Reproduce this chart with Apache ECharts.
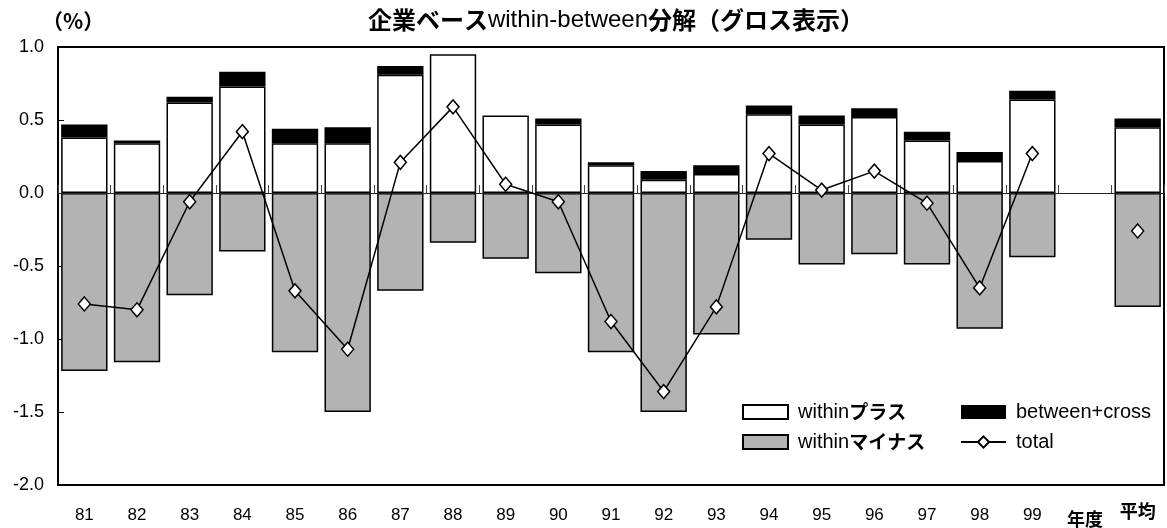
<!DOCTYPE html>
<html>
<head>
<meta charset="utf-8">
<script src="https://cdn.jsdelivr.net/npm/echarts@6/dist/echarts.min.js"></script>
<style>
  html, body { margin: 0; padding: 0; background: #fff; }
  #chart { width: 1167px; height: 528px; }
</style>
</head>
<body>
<div id="chart"></div>
<script>
// 年度別の within / between 分解（企業ベース、グロス表示）
const categories = ['81', '82', '83', '84', '85', '86', '87', '88', '89', '90',
  '91', '92', '93', '94', '95', '96', '97', '98', '99', '年度', '平均'];

const withinPlus = [0.38, 0.34, 0.62, 0.73, 0.34, 0.34, 0.81, 0.95, 0.53, 0.47,
  0.19, 0.09, 0.13, 0.54, 0.47, 0.52, 0.36, 0.22, 0.64, null, 0.45];

const betweenCross = [0.09, 0.02, 0.04, 0.10, 0.10, 0.11, 0.06, 0, 0, 0.04,
  0.02, 0.06, 0.06, 0.06, 0.06, 0.06, 0.06, 0.06, 0.06, null, 0.06];

const withinMinus = [-1.22, -1.16, -0.70, -0.40, -1.09, -1.50, -0.67, -0.34, -0.45, -0.55,
  -1.09, -1.50, -0.97, -0.32, -0.49, -0.42, -0.49, -0.93, -0.44, null, -0.78];

const total = [-0.76, -0.80, -0.06, 0.42, -0.67, -1.07, 0.21, 0.59, 0.06, -0.06,
  -0.88, -1.36, -0.78, 0.27, 0.02, 0.15, -0.07, -0.65, 0.27, null, -0.26];

const yTicks = { min: -2.0, max: 1.0, step: 0.5 };

const LATIN = '"Liberation Sans", Arial, sans-serif';
const CJK = '"Noto Sans CJK JP", sans-serif';

const legendRich = {
  r: { fontFamily: LATIN, fontSize: 20, fontWeight: 'normal', color: '#000', padding: [0, 0, 0, 5] },
  b: { fontFamily: CJK, fontSize: 19, fontWeight: 'bold', color: '#000' }
};
function legendLabel(name) {
  const m = name.match(/^(within)(.*)$/);
  if (m) return '{r|' + m[1] + '}{b|' + m[2] + '}';
  return '{r|' + name + '}';
}

const chart = echarts.init(document.getElementById('chart'), null, { renderer: 'canvas' });

chart.setOption({
  animation: false,
  backgroundColor: '#fff',
  title: {
    text: '{b|企業ベース}{r|within-between}{b|分解（グロス表示）}',
    left: 611,
    textAlign: 'center',
    top: 3,
    textStyle: {
      rich: {
        b: { fontFamily: CJK, fontSize: 24, fontWeight: 'bold', color: '#000' },
        r: { fontFamily: LATIN, fontSize: 24, fontWeight: 'normal', color: '#000' }
      }
    }
  },
  graphic: [
    {
      type: 'text', left: 42, top: 11,
      style: {
        text: '（%）',
        font: 'bold 21px "Noto Sans CJK JP", sans-serif',
        fill: '#000'
      }
    }
  ],
  grid: {
    left: 58, right: 3, top: 47, bottom: 40,
    show: true, borderColor: '#000', borderWidth: 2, backgroundColor: '#fff'
  },
  legend: [
    {
      data: [{ name: 'withinプラス', icon: 'rect' }, { name: 'withinマイナス', icon: 'rect' }],
      orient: 'vertical', left: 737, top: 397,
      itemWidth: 45, itemHeight: 14, itemGap: 10,
      formatter: legendLabel,
      textStyle: { rich: legendRich }
    },
    {
      data: [{ name: 'between+cross', icon: 'rect' }, 'total'],
      orient: 'vertical', left: 955, top: 397,
      itemWidth: 45, itemHeight: 14, itemGap: 10,
      formatter: legendLabel,
      textStyle: { rich: legendRich }
    }
  ],
  xAxis: [
    {
      // zero line with boundary ticks
      type: 'category', data: categories, position: 'bottom',
      axisLine: { onZero: true, lineStyle: { color: '#222', width: 1.2 } },
      axisTick: { show: true, inside: true, length: 8, interval: 0, lineStyle: { color: '#444', width: 1 } },
      axisLabel: { show: false },
      z: 5
    },
    {
      // category labels along the bottom edge
      type: 'category', data: categories, position: 'bottom',
      axisLine: { show: false, onZero: false },
      axisTick: { show: false },
      axisLabel: {
        interval: 0,
        margin: 17,
        formatter: function (v) {
          if (v === '年度') return '{n|' + v + '}';
          if (v === '平均') return '{a|' + v + '}';
          return '{d|' + v + '}';
        },
        rich: {
          d: { fontFamily: LATIN, fontSize: 17, color: '#000', padding: [5, 0, 0, 0] },
          n: { fontFamily: CJK, fontSize: 18, fontWeight: 'bold', color: '#000', padding: [8, 0, 0, 0] },
          a: { fontFamily: CJK, fontSize: 18, fontWeight: 'bold', color: '#000', padding: [0, 0, 0, 0] }
        }
      }
    }
  ],
  yAxis: {
    type: 'value',
    min: yTicks.min, max: yTicks.max, interval: yTicks.step,
    axisLine: { show: true, lineStyle: { color: '#000', width: 2 } },
    axisTick: { show: true, inside: true, length: 6, lineStyle: { color: '#000', width: 1 } },
    splitLine: { show: false },
    axisLabel: {
      margin: 14,
      fontFamily: LATIN, fontSize: 18, color: '#000',
      formatter: function (v) { return v.toFixed(1); }
    }
  },
  series: [
    {
      name: 'withinプラス', type: 'bar', stack: 'g', data: withinPlus,
      barCategoryGap: '12%',
      itemStyle: { color: '#fff', borderColor: '#000', borderWidth: 1.5 }
    },
    {
      name: 'between+cross', type: 'bar', stack: 'g', data: betweenCross,
      itemStyle: { color: '#000', borderColor: '#000', borderWidth: 0 }
    },
    {
      name: 'withinマイナス', type: 'bar', stack: 'g', data: withinMinus,
      itemStyle: { color: '#b3b3b3', borderColor: '#000', borderWidth: 1.5 }
    },
    {
      name: 'total', type: 'line', data: total, connectNulls: false,
      symbol: 'diamond', symbolSize: [12, 14],
      lineStyle: { color: '#000', width: 1.5 },
      itemStyle: { color: '#fff', borderColor: '#000', borderWidth: 1.5 },
      z: 10
    }
  ]
});
</script>
</body>
</html>
